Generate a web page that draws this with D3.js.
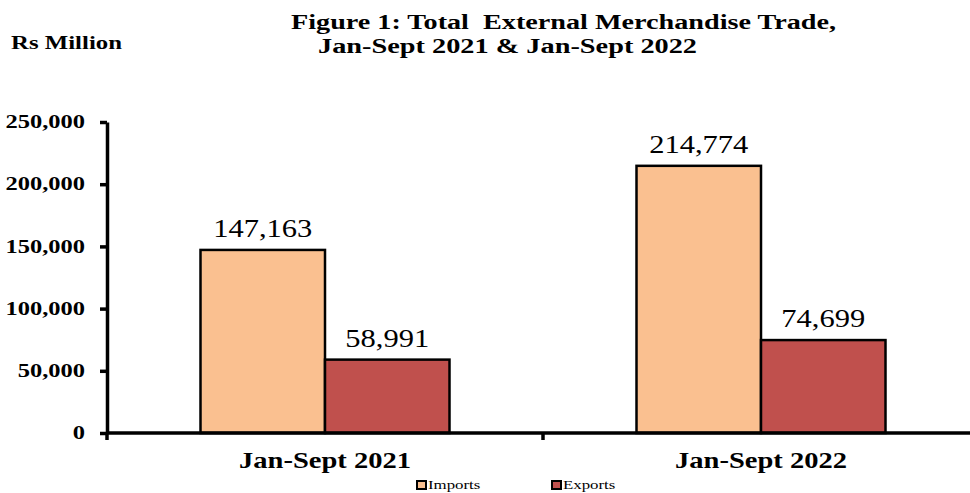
<!DOCTYPE html>
<html lang="en">
	<head>
		<meta charset="utf-8">
		<title>External Merchandise Trade</title>
		<script type="text/javascript" src="https://cdn.jsdelivr.net/npm/d3@7"></script>
		<style type="text/css">
			body {
				margin: 0;
				background: #fff;
			}
			text {
				font-family: "Liberation Serif", "Times New Roman", serif;
				fill: #000;
			}
		</style>
	</head>
	<body>
		<script type="text/javascript">

			// data
			let categories = ["Jan-Sept 2021", "Jan-Sept 2022"];
			let series = ["Imports", "Exports"];
			let imports = [147163, 214774];
			let exports = [58991, 74699];
			let yTicks = [0, 50000, 100000, 150000, 200000, 250000];

			let colors = {Imports: "#FAC090", Exports: "#C0504D"};

			//Width and height
			let w = 970;
			let h = 493;

			let xScale = d3.scaleBand()
				.domain(categories)
				.range([107, 979]);

			let groupW = 249;
			let xInner = d3.scaleBand()
				.domain(series)
				.range([0, groupW]);

			let yScale = d3.scaleLinear()
				.domain([0, 250000])
				.range([433, 122]);

			// stretch text horizontally, the original is wide
			let stretch = (sel, k) => {
				sel.each(function() {
					let tw = this.getComputedTextLength();
					this.setAttribute("textLength", tw * k);
					this.setAttribute("lengthAdjust", "spacingAndGlyphs");
				});
			}

			let svg = d3.select("body")
						.append("svg")
						.attr("width", w)
						.attr("height", h);

			//Titles
			svg.append("text")
				.attr("x", 291)
				.attr("y", 29)
				.style("font-size", "20px")
				.style("font-weight", "bold")
				.style("white-space", "pre")
				.attr("textLength", 545)
				.attr("lengthAdjust", "spacingAndGlyphs")
				.text("Figure 1: Total  External Merchandise Trade,");

			svg.append("text")
				.attr("x", 318)
				.attr("y", 53)
				.style("font-size", "20px")
				.style("font-weight", "bold")
				.attr("textLength", 379)
				.attr("lengthAdjust", "spacingAndGlyphs")
				.text("Jan-Sept 2021 & Jan-Sept 2022");

			svg.append("text")
				.attr("x", 11)
				.attr("y", 49)
				.style("font-size", "18px")
				.style("font-weight", "bold")
				.attr("textLength", 111)
				.attr("lengthAdjust", "spacingAndGlyphs")
				.text("Rs Million");

			//Rows for bars
			let rows = [];
			categories.forEach((c, i) => {
				rows.push({cat: c, key: "Imports", value: imports[i]});
				rows.push({cat: c, key: "Exports", value: exports[i]});
			});

			let barX = (d) => xScale(d.cat) + (xScale.bandwidth() - groupW) / 2 + xInner(d.key);

			svg.selectAll("rect.bar")
				.data(rows)
				.enter()
				.append("rect")
				.attr("class", "bar")
				.attr("x", barX)
				.attr("y", (d) => yScale(d.value))
				.attr("width", xInner.bandwidth())
				.attr("height", (d) => yScale(0) - yScale(d.value))
				.attr("fill", (d) => colors[d.key])
				.attr("stroke", "#000")
				.attr("stroke-width", 2.5);

			let labels = svg.selectAll("text.val")
				.data(rows)
				.enter()
				.append("text")
				.attr("class", "val")
				.attr("x", (d) => barX(d) + xInner.bandwidth() / 2)
				.attr("y", (d) => yScale(d.value) - 13)
				.style("text-anchor", "middle")
				.style("font-size", "25px")
				.text((d) => d3.format(",")(d.value));
			stretch(labels, 1.22);

			//Y axis
			let yAxis = d3.axisLeft(yScale)
				.tickValues(yTicks)
				.tickSize(7)
				.tickSizeOuter(0)
				.tickPadding(15)
				.tickFormat(d3.format(","));

			let yg = svg.append("g")
				.attr("transform", "translate(107,0)")
				.call(yAxis);
			yg.select(".domain").attr("stroke-width", 3.5).attr("stroke", "#000");
			yg.selectAll(".tick line").attr("stroke-width", 3.5).attr("stroke", "#000");
			yg.selectAll(".tick text")
				.style("font-family", '"Liberation Serif", "Times New Roman", serif')
				.style("font-size", "18px")
				.style("font-weight", "bold")
				.attr("fill", "#000");
			stretch(yg.selectAll(".tick text"), 1.36);

			//X axis
			svg.append("line")
				.attr("x1", 107)
				.attr("x2", 970)
				.attr("y1", yScale(0))
				.attr("y2", yScale(0))
				.attr("stroke", "#000")
				.attr("stroke-width", 3.5);

			svg.selectAll("line.xtick")
				.data(categories)
				.enter()
				.append("line")
				.attr("class", "xtick")
				.attr("x1", (d) => xScale(d))
				.attr("x2", (d) => xScale(d))
				.attr("y1", yScale(0))
				.attr("y2", yScale(0) + 7)
				.attr("stroke", "#000")
				.attr("stroke-width", 3.5);

			let cats = svg.selectAll("text.cat")
				.data(categories)
				.enter()
				.append("text")
				.attr("class", "cat")
				.attr("x", (d) => xScale(d) + xScale.bandwidth() / 2)
				.attr("y", 468)
				.style("text-anchor", "middle")
				.style("font-size", "23px")
				.style("font-weight", "bold")
				.text((d) => d);
			stretch(cats, 1.24);

			//Legend
			let legendX = [417, 552];
			let leg = svg.selectAll("g.leg")
				.data(series)
				.enter()
				.append("g")
				.attr("class", "leg")
				.attr("transform", (d, i) => "translate(" + legendX[i] + ",0)");

			leg.append("rect")
				.attr("x", 0)
				.attr("y", 481)
				.attr("width", 9)
				.attr("height", 8)
				.attr("fill", (d) => colors[d])
				.attr("stroke", "#000")
				.attr("stroke-width", 2);

			let legText = leg.append("text")
				.attr("x", 11)
				.attr("y", 489)
				.style("font-size", "12px")
				.text((d) => d);
			stretch(legText, 1.4);

		</script>
	</body>
</html>
